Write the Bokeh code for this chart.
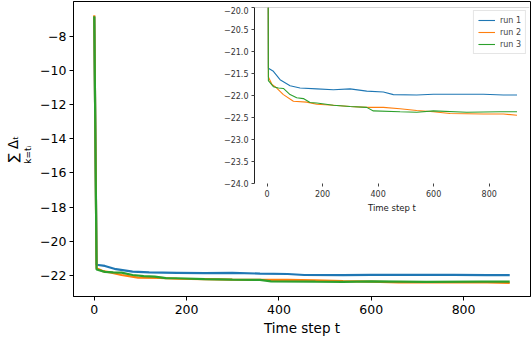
from bokeh.plotting import figure
from bokeh.layouts import column
from bokeh.models import CustomJSTickFormatter, Span, Legend, LegendItem, LinearAxis, FixedTicker
from bokeh.embed import file_html
from bokeh.resources import INLINE

# ---- data ----
t1 = [0, 5, 23, 47, 83, 119, 179, 239, 299, 359, 419, 455, 539, 599, 779, 851, 900]
run1 = [-6.85, -21.38, -21.45, -21.64, -21.78, -21.83, -21.85, -21.87, -21.85, -21.90,
        -21.92, -21.98, -21.99, -21.97, -21.97, -21.99, -21.99]

t2 = [0, 5, 18, 35, 59, 95, 143, 179, 239, 299, 359, 419, 479, 539, 599, 659, 779, 851, 900]
run2 = [-6.75, -21.58, -21.75, -21.83, -21.98, -22.13, -22.15, -22.20, -22.22, -22.25,
        -22.27, -22.27, -22.30, -22.34, -22.37, -22.41, -22.42, -22.42, -22.45]

t3 = [0, 5, 23, 41, 59, 83, 107, 131, 155, 179, 239, 299, 359, 383, 479, 539, 599, 719, 839, 900]
run3 = [-6.82, -21.66, -21.80, -21.83, -21.84, -21.98, -22.05, -22.07, -22.16, -22.17,
        -22.22, -22.25, -22.27, -22.35, -22.37, -22.38, -22.35, -22.38, -22.37, -22.37]

labels = ["run 1", "run 2", "run 3"]
colors = ["#1f77b4", "#ff7f0e", "#2ca02c"]
main_xticks = [0, 200, 400, 600, 800]
main_yticks = [-22, -20, -18, -16, -14, -12, -10, -8]
inset_yticks = [-24.0, -23.5, -23.0, -22.5, -22.0, -21.5, -21.0, -20.5, -20.0]

series = [(t1, run1), (t2, run2), (t3, run3)]
FONT = "DejaVu Sans"
NB = "\u00a0"

# ---- main figure ----
p = figure(width=532, height=338, x_range=(-45, 945), y_range=(-23.24, -5.95),
           output_backend="svg", toolbar_location=None,
           min_border_left=73, min_border_right=2, min_border_top=1, min_border_bottom=42)
p.grid.visible = False
p.outline_line_color = "black"
p.outline_line_width = 1
p.outline_line_alpha = 1
p.background_fill_color = "white"

for (tx, ty), c in zip(series, colors):
    p.line(tx, ty, line_color=c, line_width=2.2)

p.xaxis.ticker = main_xticks
p.yaxis.ticker = main_yticks
p.xaxis.formatter = CustomJSTickFormatter(code="return String(tick).replace('-', '\u2212');")
p.yaxis.formatter = CustomJSTickFormatter(code="return String(tick).replace('-', '\u2212');")
for ax in (p.xaxis[0], p.yaxis[0]):
    ax.major_tick_out = 4
    ax.major_tick_in = 0
    ax.minor_tick_out = 0
    ax.minor_tick_in = 0
    ax.axis_line_color = "black"
    ax.axis_line_width = 1
    ax.major_tick_line_color = "black"
    ax.major_label_text_font = FONT
    ax.major_label_text_font_size = "12.5px"
    ax.major_label_text_color = "black"
    ax.axis_label_text_font = FONT
    ax.axis_label_text_font_style = "normal"
    ax.axis_label_text_font_size = "13.5px"
    ax.axis_label_text_color = "black"
p.xaxis.axis_label = "Time step t"
p.xaxis.axis_label_standoff = 3
p.xaxis.major_label_standoff = 4
p.yaxis.major_label_standoff = 3

# y label: inner part (lower limit of the sum) on the main y axis
p.yaxis.axis_label = "k=tᵢ" + NB * 4
p.yaxis.axis_label_text_font_size = "9px"
p.yaxis.axis_label_standoff = 4

# outer part (sum sign and summand) on an extra, tick-less axis
outer = LinearAxis(ticker=FixedTicker(ticks=[]), axis_line_color=None,
                   major_tick_line_color=None, minor_tick_line_color=None,
                   axis_label="∑" + NB + "Δₜ", axis_label_text_font=FONT,
                   axis_label_text_font_style="normal", axis_label_text_font_size="13.5px",
                   axis_label_text_color="black", axis_label_standoff=0)
p.add_layout(outer, "left")

# ---- inset figure ----
pi = figure(width=350, height=209, x_range=(-45, 945), y_range=(-24, -20),
            output_backend="svg", toolbar_location=None,
            min_border_left=73, min_border_right=2, min_border_top=1, min_border_bottom=30,
            margin=(-332, 0, 0, 181))
pi.grid.visible = False
pi.outline_line_color = None
pi.background_fill_alpha = 0
pi.border_fill_alpha = 0

rends = []
for (tx, ty), c in zip(series, colors):
    rends.append(pi.line(tx, ty, line_color=c, line_width=1.1))

pi.add_layout(Span(location=-20, dimension="width", line_color="#aaaaaa", line_width=1.2))

pi.xaxis.ticker = main_xticks
pi.yaxis.ticker = inset_yticks
pi.yaxis.formatter = CustomJSTickFormatter(code="return tick.toFixed(1).replace('-', '\u2212');")
for ax in (pi.xaxis[0], pi.yaxis[0]):
    ax.major_tick_out = 3
    ax.major_tick_in = 0
    ax.minor_tick_out = 0
    ax.minor_tick_in = 0
    ax.major_tick_line_color = "#444444"
    ax.major_label_text_font = FONT
    ax.major_label_text_font_size = "8px"
    ax.major_label_text_color = "#333333"
    ax.major_label_standoff = 3
    ax.axis_label_text_font = FONT
    ax.axis_label_text_font_style = "normal"
    ax.axis_label_text_font_size = "8.5px"
    ax.axis_label_text_color = "#222222"
pi.yaxis.axis_line_color = "#222222"
pi.xaxis.axis_line_color = None
pi.xaxis.axis_label = "Time step t"
pi.xaxis.axis_label_standoff = 3

legend = Legend(items=[LegendItem(label=l, renderers=[r]) for l, r in zip(labels, rends)],
                location="top_right")
legend.label_text_font = FONT
legend.label_text_font_size = "8px"
legend.glyph_width = 17
legend.glyph_height = 10
legend.label_height = 10
legend.spacing = 2
legend.padding = 4
legend.margin = 3
legend.border_line_color = "#cccccc"
legend.background_fill_color = "white"
legend.background_fill_alpha = 0.8
pi.add_layout(legend)

layout = column(p, pi, spacing=0)
open("out.html", "w").write(file_html(layout, INLINE))
